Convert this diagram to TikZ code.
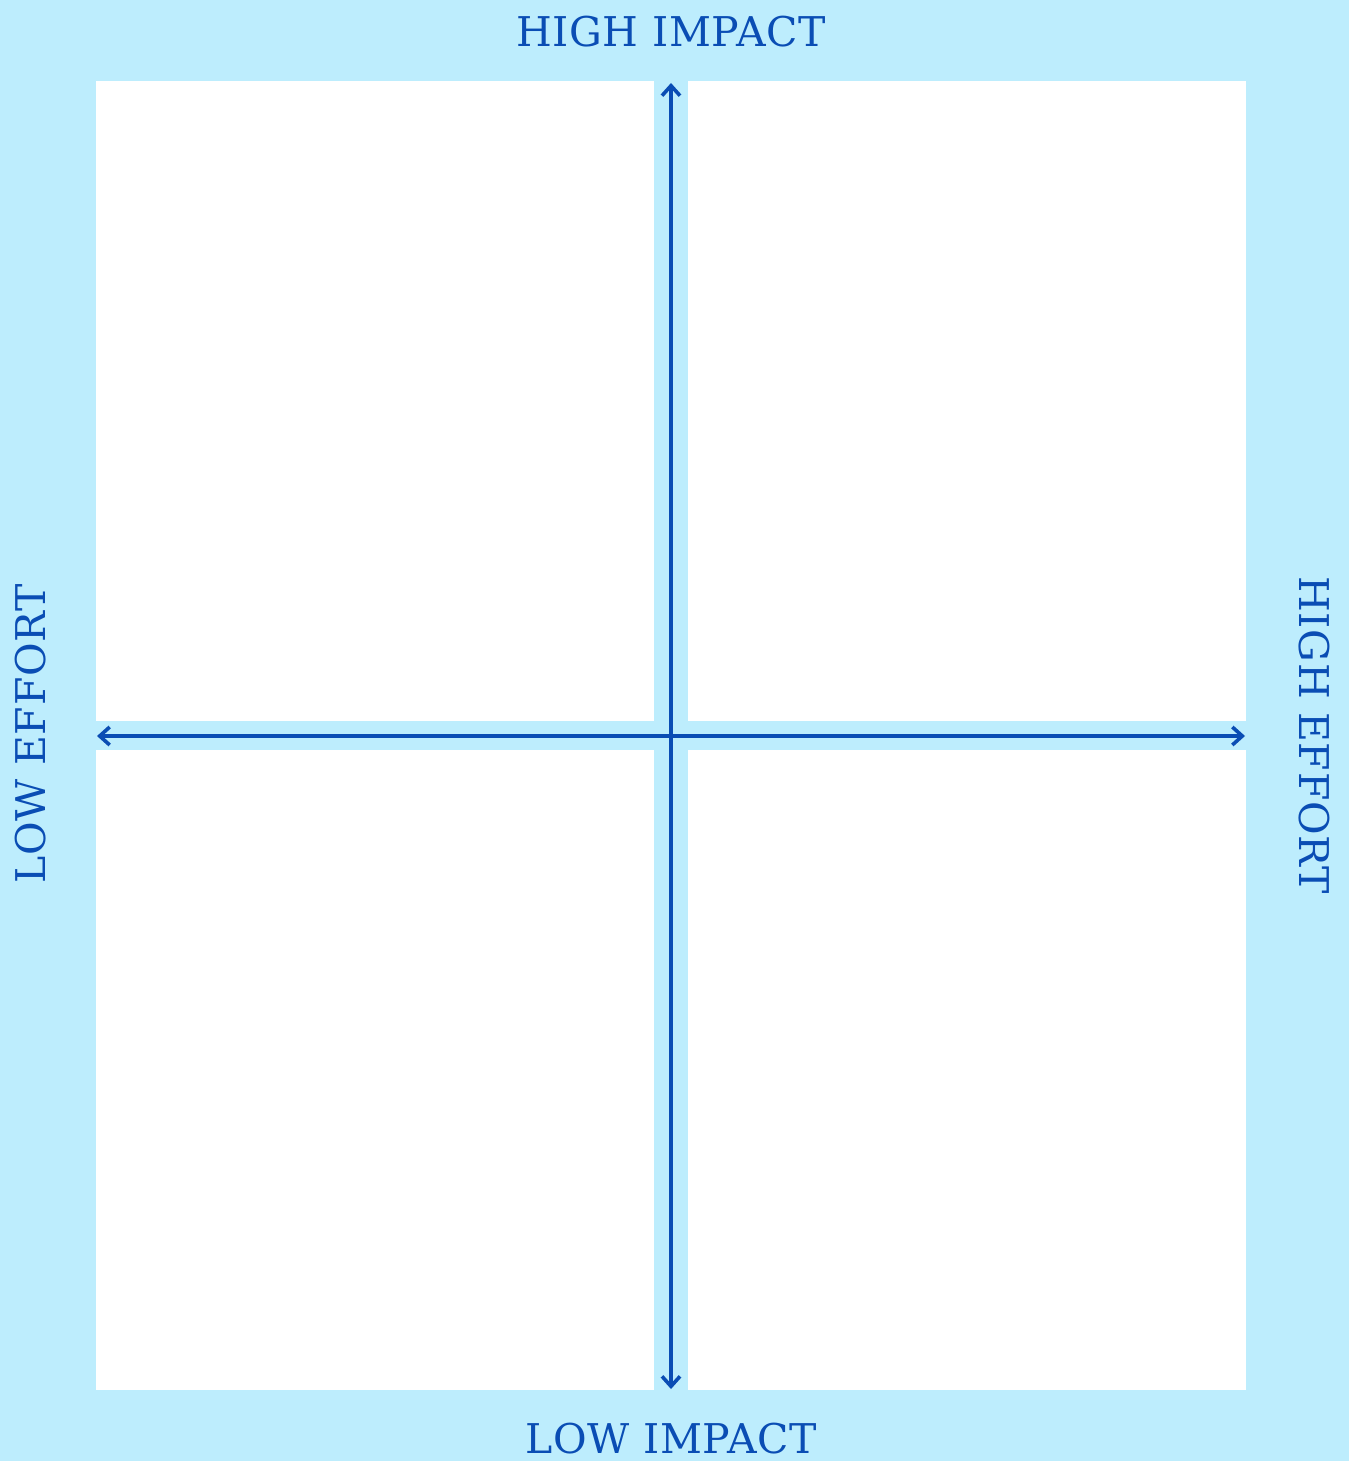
\documentclass[tikz,border=0pt]{standalone}
\usepackage{fontspec}
\setmainfont{DejaVu Serif}
\usetikzlibrary{arrows.meta}
\definecolor{sfondo}{RGB}{189,237,253}
\definecolor{blu}{RGB}{10,77,180}

\begin{document}
\begin{tikzpicture}[
    x=0.5pt, y=-0.5pt,
    etichetta/.style={text=blu,inner sep=0pt,
      font=\fontsize{20.5}{24}\selectfont\addfontfeatures{LetterSpace=1.5}},
    quadrante/.style={fill=white},
    asse/.style={draw=blu,line width=2pt,
      {Straight Barb[length=5pt,width=9pt,line width=1.8pt]}-{Straight Barb[length=5pt,width=9pt,line width=1.8pt]}}]

  % sfondo e bordi
  \fill[sfondo] (0,0) rectangle (1349,1461);
  \useasboundingbox (0,0) rectangle (1349,1461);

  % quattro quadranti
  \fill[quadrante] (96,81)   rectangle (654,721);    % alto a sinistra
  \fill[quadrante] (688,81)  rectangle (1246,721);   % alto a destra
  \fill[quadrante] (96,750)  rectangle (654,1390);   % basso a sinistra
  \fill[quadrante] (688,750) rectangle (1246,1390);  % basso a destra

  % estremi degli assi
  \coordinate (su)  at (671,83);
  \coordinate (giu) at (671,1389);
  \coordinate (sx)  at (97,736);
  \coordinate (dx)  at (1245,736);

  \draw[asse] (sx) -- (dx);
  \draw[asse] (su) -- (giu);

  % etichette
  \node[etichetta,anchor=base] (alto)  at (671,47)   {HIGH IMPACT};
  \node[etichetta,anchor=base] (basso) at (671,1453) {LOW IMPACT};
  \node[etichetta,anchor=base,rotate=90]  (sinistra) at (45,734)   {LOW EFFORT};
  \node[etichetta,anchor=base,rotate=-90] (destra)   at (1299,735) {HIGH EFFORT};

\end{tikzpicture}
\end{document}
